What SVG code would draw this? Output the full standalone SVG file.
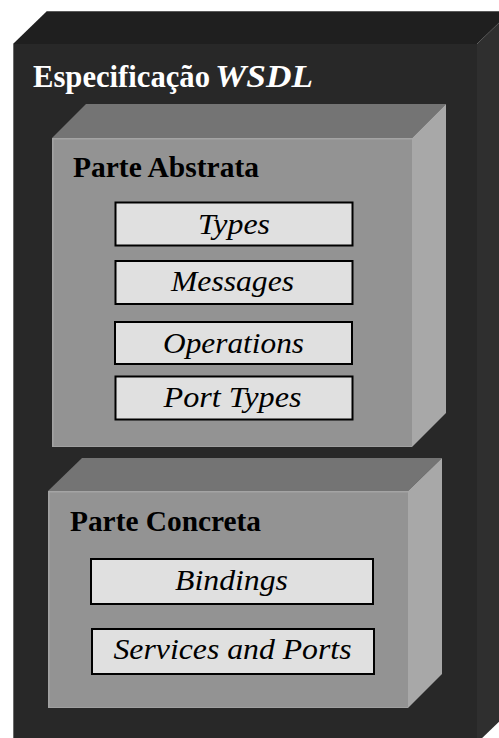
<svg xmlns="http://www.w3.org/2000/svg" width="499" height="738" viewBox="0 0 499 738">
  <style>
    .title { font-family: "Liberation Serif", "Times New Roman", serif; font-weight: bold; }
    .item-box { fill: #e0e0e0; stroke: #000000; stroke-width: 2; }
    .item-text { font-family: "Liberation Serif", "Times New Roman", serif; font-style: italic; font-size: 29px; fill: #000000; text-anchor: middle; }
    .in-top { fill: #747474; }
    .in-front { fill: #939393; }
    .in-side { fill: #a8a8a8; }
    .in-edge { stroke: #a4a4a4; stroke-width: 1.5; fill: none; }
  </style>
  <rect width="499" height="738" fill="#ffffff"/>

  <!-- Outer block: WSDL specification -->
  <g id="wsdl-spec">
    <polygon points="13,44 47,11 511,11 477,44" fill="#1f1f1f"/>
    <line x1="47" y1="11.5" x2="499" y2="11.5" stroke="#5a5a5a" stroke-width="1"/>
    <polygon points="477,44 511,11 511,710 477,743" fill="#2f2f2f"/>
    <rect x="13" y="44" width="464" height="699" fill="#282828"/>
    <line x1="13.5" y1="44" x2="13.5" y2="738" stroke="#6a6a6a" stroke-width="1"/>
    <text class="title" x="33" y="87" font-size="31" fill="#ffffff" textLength="177" lengthAdjust="spacingAndGlyphs">Especificação</text>
    <text class="title" x="215" y="87" font-size="31" font-style="italic" fill="#ffffff" textLength="98" lengthAdjust="spacingAndGlyphs">WSDL</text>
  </g>

  <!-- Abstract part -->
  <g id="parte-abstrata">
    <polygon class="in-top" points="52,138 86,104 446,104 412,138"/>
    <polygon class="in-side" points="412,138 446,104 446,413 412,447"/>
    <rect class="in-front" x="52" y="138" width="360" height="309"/>
    <polyline class="in-edge" points="52.8,447 52.8,138.8 412,138.8"/>
    <line x1="52" y1="446.5" x2="412" y2="446.5" stroke="#a0a0a0" stroke-width="1"/>
    <text class="title" x="73" y="177" font-size="29" fill="#000000" textLength="186" lengthAdjust="spacingAndGlyphs">Parte Abstrata</text>
  </g>

  <g id="types">
    <rect class="item-box" x="115.5" y="202.5" width="237" height="43"/>
    <text class="item-text" x="234" y="233.5" textLength="72" lengthAdjust="spacingAndGlyphs">Types</text>
  </g>
  <g id="messages">
    <rect class="item-box" x="115.5" y="261" width="237" height="43"/>
    <text class="item-text" x="232.5" y="291" textLength="123" lengthAdjust="spacingAndGlyphs">Messages</text>
  </g>
  <g id="operations">
    <rect class="item-box" x="115" y="322" width="237" height="42"/>
    <text class="item-text" x="233.5" y="352.5" textLength="141" lengthAdjust="spacingAndGlyphs">Operations</text>
  </g>
  <g id="port-types">
    <rect class="item-box" x="115.5" y="376.5" width="237" height="43"/>
    <text class="item-text" x="232.5" y="407" textLength="138" lengthAdjust="spacingAndGlyphs">Port Types</text>
  </g>

  <!-- Concrete part -->
  <g id="parte-concreta">
    <polygon class="in-top" points="48,491 82,458 442,458 408,491"/>
    <polygon class="in-side" points="408,491 442,458 442,674 408,708"/>
    <rect class="in-front" x="48" y="491" width="360" height="217"/>
    <polyline class="in-edge" points="48.8,708 48.8,491.8 408,491.8"/>
    <line x1="48" y1="707.5" x2="408" y2="707.5" stroke="#a0a0a0" stroke-width="1"/>
    <text class="title" x="70" y="531" font-size="29" fill="#000000" textLength="191" lengthAdjust="spacingAndGlyphs">Parte Concreta</text>
  </g>

  <g id="bindings">
    <rect class="item-box" x="91" y="559" width="282" height="45"/>
    <text class="item-text" x="231.5" y="590" textLength="113" lengthAdjust="spacingAndGlyphs">Bindings</text>
  </g>
  <g id="services-and-ports">
    <rect class="item-box" x="92" y="629" width="282" height="45"/>
    <text class="item-text" x="232.5" y="658.5" textLength="238" lengthAdjust="spacingAndGlyphs">Services and Ports</text>
  </g>

  <!-- No connectors in this figure -->
  <g id="connectors"/>
</svg>
